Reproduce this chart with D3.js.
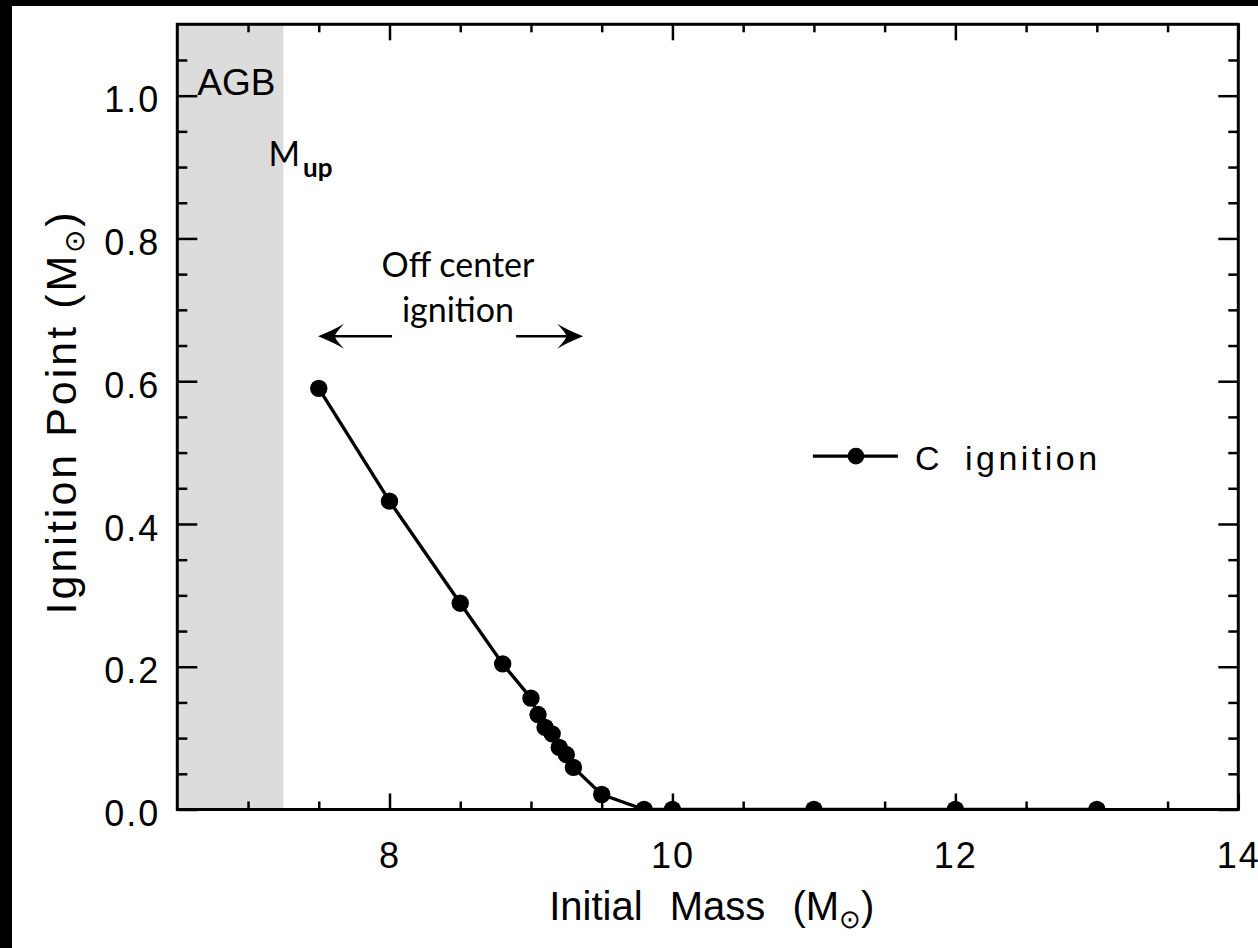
<!DOCTYPE html>
<html>
<head>
<meta charset="utf-8">
<script src="https://cdn.jsdelivr.net/npm/d3@7"></script>
<style>
  body { margin: 0; background: #fff; }
  svg { display: block; }
</style>
</head>
<body>
<svg id="chart" width="1258" height="948"></svg>
<script>
// Initial stellar mass of each model (solar masses)
const initialMass   = [7.5, 8.0, 8.5, 8.8, 9.0, 9.05, 9.1, 9.15, 9.2, 9.25, 9.3, 9.5, 9.8, 10, 11, 12, 13];
// Mass coordinate where carbon first ignites (solar masses)
const ignitionPoint = [0.59, 0.432, 0.289, 0.204, 0.156, 0.133, 0.115, 0.106, 0.087, 0.077, 0.059, 0.021, 0, 0, 0, 0, 0];
const seriesName = "C ignition";

// Upper mass limit for AGB evolution (M_up)
const mUp = 7.25;

// Axis ticks
const xMajorTicks  = [8, 10, 12, 14];
const xTickLabels  = ["8", "10", "12", "14"];
const yMajorTicks  = [0, 0.2, 0.4, 0.6, 0.8, 1.0];
const yTickLabels  = ["0.0", "0.2", "0.4", "0.6", "0.8", "1.0"];

const W = 1258, H = 948;
const frame = { left: 177.3, right: 1238.3, top: 24.3, bottom: 809.5 };

const x = d3.scaleLinear().domain([6.5, 14]).range([frame.left, frame.right]);
const y = d3.scaleLinear().domain([0, 1.1]).range([frame.bottom, frame.top]);

const isMajor = (v, step) => Math.abs(Math.round(v / step) * step - v) < 1e-6;
const xMinorTicks = d3.range(7, 14, 0.5).filter(v => !isMajor(v, 2));
const yMinorTicks = d3.range(0.05, 1.09, 0.05).filter(v => !isMajor(v, 0.2));

const svg = d3.select("#chart");
const axisFont = "'Liberation Sans', Arial, sans-serif";
const noteFont = "Lato, 'Open Sans', sans-serif";

svg.append("rect").attr("width", W).attr("height", H).attr("fill", "#fff");
// dark edges of the figure
svg.append("rect").attr("x", 0).attr("y", 0).attr("width", W).attr("height", 6).attr("fill", "#000");
svg.append("rect").attr("x", 0).attr("y", 0).attr("width", 12).attr("height", H).attr("fill", "#000");

svg.append("clipPath").attr("id", "plot-clip")
  .append("rect")
  .attr("x", frame.left).attr("y", frame.top)
  .attr("width", frame.right - frame.left).attr("height", frame.bottom - frame.top);

// AGB region below M_up
svg.append("rect")
  .attr("x", x(6.5)).attr("y", y(1.1))
  .attr("width", x(mUp) - x(6.5)).attr("height", y(0) - y(1.1))
  .attr("fill", "#dcdcdc");

// data series
const pts = d3.zip(initialMass, ignitionPoint);
const plot = svg.append("g").attr("clip-path", "url(#plot-clip)");
plot.append("path")
  .datum(pts)
  .attr("fill", "none")
  .attr("stroke", "#000")
  .attr("stroke-width", 3.4)
  .attr("stroke-linejoin", "round")
  .attr("d", d3.line().x(d => x(d[0])).y(d => y(d[1])));
plot.selectAll("circle")
  .data(pts)
  .join("circle")
  .attr("cx", d => x(d[0]))
  .attr("cy", d => y(d[1]))
  .attr("r", 8.7)
  .attr("fill", "#000");

// axes: labelled major ticks plus minor ticks on all four sides
function addAxis(gen, transform) {
  const g = svg.append("g").attr("transform", transform).call(gen);
  g.select(".domain").remove();
  g.selectAll(".tick line").attr("stroke", "#000").attr("stroke-width", 2.5);
  g.attr("font-family", axisFont).attr("font-size", 36);
  g.selectAll(".tick text").attr("fill", "#000").attr("letter-spacing", 2);
  return g;
}

addAxis(d3.axisBottom(x).tickValues(xMajorTicks).tickSize(-16).tickPadding(33)
  .tickFormat((d, i) => xTickLabels[i]), `translate(0,${frame.bottom})`);
addAxis(d3.axisBottom(x).tickValues(xMinorTicks).tickSize(-8).tickFormat(""),
  `translate(0,${frame.bottom})`);
addAxis(d3.axisTop(x).tickValues(xMajorTicks).tickSize(-16).tickFormat(""),
  `translate(0,${frame.top})`);
addAxis(d3.axisTop(x).tickValues(xMinorTicks).tickSize(-8).tickFormat(""),
  `translate(0,${frame.top})`);

const yLeft = addAxis(d3.axisLeft(y).tickValues(yMajorTicks).tickSize(-20).tickPadding(17)
  .tickFormat((d, i) => yTickLabels[i]), `translate(${frame.left},0)`);
yLeft.selectAll(".tick text").attr("dy", "0.45em");
addAxis(d3.axisLeft(y).tickValues(yMinorTicks).tickSize(-10).tickFormat(""),
  `translate(${frame.left},0)`);
addAxis(d3.axisRight(y).tickValues(yMajorTicks).tickSize(-20).tickFormat(""),
  `translate(${frame.right},0)`);
addAxis(d3.axisRight(y).tickValues(yMinorTicks).tickSize(-10).tickFormat(""),
  `translate(${frame.right},0)`);

// plot frame
svg.append("rect")
  .attr("x", frame.left).attr("y", frame.top)
  .attr("width", frame.right - frame.left).attr("height", frame.bottom - frame.top)
  .attr("fill", "none").attr("stroke", "#000").attr("stroke-width", 3);

// axis titles
const xTitle = svg.append("text")
  .attr("x", (frame.left + frame.right) / 2 + 4).attr("y", 920)
  .attr("text-anchor", "middle")
  .attr("font-family", axisFont).attr("font-size", 40)
  .attr("word-spacing", 16)
  .attr("fill", "#000");
xTitle.append("tspan").text("Initial Mass (M");
xTitle.append("tspan").attr("font-size", 26).attr("dy", 8).text("⊙");
xTitle.append("tspan").attr("dy", -8).text(")");

const yTitle = svg.append("text")
  .attr("transform", `translate(76,${(frame.top + frame.bottom) / 2 - 5}) rotate(-90)`)
  .attr("text-anchor", "middle")
  .attr("font-family", axisFont).attr("font-size", 43)
  .attr("letter-spacing", 3)
  .attr("fill", "#000");
yTitle.append("tspan").text("Ignition Point (M");
yTitle.append("tspan").attr("font-size", 28).attr("dy", 8).text("⊙");
yTitle.append("tspan").attr("dy", -8).text(")");

// region labels
svg.append("text")
  .attr("x", x(6.5) + 20).attr("y", y(1.0) - 1)
  .attr("font-family", axisFont).attr("font-size", 37)
  .attr("fill", "#000")
  .text("AGB");

const mUpLabel = svg.append("text")
  .attr("x", x(mUp) - 15).attr("y", 166)
  .attr("font-family", noteFont).attr("font-size", 34)
  .attr("fill", "#000");
mUpLabel.append("tspan").text("M");
mUpLabel.append("tspan").attr("font-size", 26).attr("font-weight", 700).attr("dx", 3).attr("dy", 11).text("up");

// off-centre ignition annotation
const noteX = 8.484;
svg.append("text")
  .attr("x", x(noteX)).attr("y", y(0.746))
  .attr("text-anchor", "middle")
  .attr("font-family", noteFont).attr("font-size", 34).attr("fill", "#000")
  .text("Off center");
svg.append("text")
  .attr("x", x(noteX)).attr("y", y(0.683))
  .attr("text-anchor", "middle")
  .attr("font-family", noteFont).attr("font-size", 34).attr("fill", "#000")
  .text("ignition");

function arrow(x0, x1, yv) {
  const px0 = x(x0), px1 = x(x1), py = y(yv);
  const dir = Math.sign(px1 - px0);
  svg.append("line")
    .attr("x1", px0).attr("y1", py).attr("x2", px1 - dir * 12).attr("y2", py)
    .attr("stroke", "#000").attr("stroke-width", 2.7);
  const L = 26, hw = 12.5, back = 17;
  const head = d3.path();
  head.moveTo(px1, py);
  head.quadraticCurveTo(px1 - dir * (L * 0.6), py - hw * 0.5, px1 - dir * L, py - hw);
  head.quadraticCurveTo(px1 - dir * back * 0.95, py - 2, px1 - dir * back, py);
  head.quadraticCurveTo(px1 - dir * back * 0.95, py + 2, px1 - dir * L, py + hw);
  head.quadraticCurveTo(px1 - dir * (L * 0.6), py + hw * 0.5, px1, py);
  head.closePath();
  svg.append("path").attr("d", head.toString()).attr("fill", "#000");
}
arrow(8.018, 7.495, 0.663);
arrow(8.895, 9.369, 0.663);

// legend
const legX = 11.297, legY = 0.495;
const leg = svg.append("g").attr("transform", `translate(${x(legX)},${y(legY)})`);
leg.append("line").attr("x1", -43).attr("x2", 42).attr("y1", 0).attr("y2", 0)
  .attr("stroke", "#000").attr("stroke-width", 3.4);
leg.append("circle").attr("r", 8.3).attr("fill", "#000");
const legText = leg.append("text")
  .attr("x", 59).attr("y", 14)
  .attr("font-family", axisFont).attr("font-size", 34)
  .attr("letter-spacing", 3.5)
  .attr("fill", "#000");
const [w1, w2] = seriesName.split(" ");
legText.append("tspan").text(w1);
legText.append("tspan").attr("x", 109).text(w2);
</script>
</body>
</html>
